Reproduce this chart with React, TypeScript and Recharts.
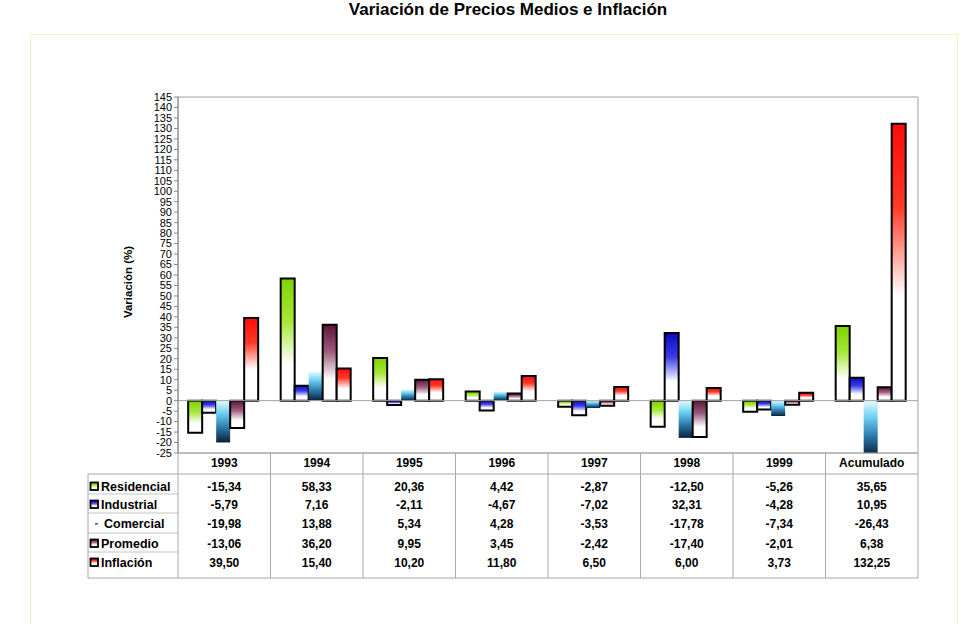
import { Bar, BarChart, ReferenceArea, ReferenceLine, XAxis, YAxis } from "recharts";

const years = ["1993", "1994", "1995", "1996", "1997", "1998", "1999", "Acumulado"];
const residencial = [-15.34, 58.33, 20.36, 4.42, -2.87, -12.5, -5.26, 35.65];
const industrial = [-5.79, 7.16, -2.11, -4.67, -7.02, 32.31, -4.28, 10.95];
const comercial = [-19.98, 13.88, 5.34, 4.28, -3.53, -17.78, -7.34, -26.43];
const promedio = [-13.06, 36.2, 9.95, 3.45, -2.42, -17.4, -2.01, 6.38];
const inflacion = [39.5, 15.4, 10.2, 11.8, 6.5, 6.0, 3.73, 132.25];
const yTicks = [-25, -20, -15, -10, -5, 0, 5, 10, 15, 20, 25, 30, 35, 40, 45, 50, 55, 60, 65, 70, 75, 80, 85, 90, 95, 100, 105, 110, 115, 120, 125, 130, 135, 140, 145];

const series = [
  { key: "res", name: "Residencial", values: residencial, grad: "gRes", border: true },
  { key: "ind", name: "Industrial", values: industrial, grad: "gInd", border: true },
  { key: "com", name: "Comercial", values: comercial, grad: "gCom", border: false },
  { key: "pro", name: "Promedio", values: promedio, grad: "gPro", border: true },
  { key: "inf", name: "Inflación", values: inflacion, grad: "gInf", border: true },
];

const data = years.map((y, i) => {
  const row: Record<string, string | number> = { year: y };
  series.forEach((s) => (row[s.key] = s.values[i]));
  return row;
});

const FONT = "Arial, 'Liberation Sans', sans-serif";
const W = 969;
const H = 624;
const PLOT_L = 178;
const PLOT_R = 918;
const PLOT_T = 97;
const PLOT_B = 453;
const COL_W = (PLOT_R - PLOT_L) / years.length;
const ROW_Y = [474, 494, 513, 533, 552, 578];

const fmt = (v: number) => v.toFixed(2).replace(".", ",");

function Gradients() {
  return (
    <defs>
      <linearGradient id="gRes" x1="0" y1="0" x2="0" y2="1">
        <stop offset="0%" stopColor="#7ed400" />
        <stop offset="35%" stopColor="#a6e638" />
        <stop offset="70%" stopColor="#ffffff" />
        <stop offset="100%" stopColor="#ffffff" />
      </linearGradient>
      <linearGradient id="gInd" x1="0" y1="0" x2="0" y2="1">
        <stop offset="0%" stopColor="#0a0ac8" />
        <stop offset="35%" stopColor="#3a3ae6" />
        <stop offset="72%" stopColor="#ffffff" />
        <stop offset="100%" stopColor="#ffffff" />
      </linearGradient>
      <linearGradient id="gCom" x1="0" y1="0" x2="0" y2="1">
        <stop offset="0%" stopColor="#e6fbff" />
        <stop offset="30%" stopColor="#6fd0f2" />
        <stop offset="65%" stopColor="#2a78a8" />
        <stop offset="100%" stopColor="#0a2038" />
      </linearGradient>
      <linearGradient id="gPro" x1="0" y1="0" x2="0" y2="1">
        <stop offset="0%" stopColor="#5e1538" />
        <stop offset="35%" stopColor="#9c5a7c" />
        <stop offset="72%" stopColor="#ffffff" />
        <stop offset="100%" stopColor="#ffffff" />
      </linearGradient>
      <linearGradient id="gInf" x1="0" y1="0" x2="0" y2="1">
        <stop offset="0%" stopColor="#ff0a0a" />
        <stop offset="30%" stopColor="#ff3a26" />
        <stop offset="62%" stopColor="#ffffff" />
        <stop offset="100%" stopColor="#ffffff" />
      </linearGradient>
    </defs>
  );
}

function DataTable() {
  const cols = years.map((_, i) => PLOT_L + i * COL_W);
  return (
    <svg width={W} height={H} style={{ position: "absolute", left: 0, top: 0, pointerEvents: "none" }}>
      <Gradients />
      {/* title and y axis caption */}
      <text x={508} y={15} textAnchor="middle" fontFamily={FONT} fontWeight="bold" fontSize={17} fill="#000">
        Variación de Precios Medios e Inflación
      </text>
      <text
        x={0}
        y={0}
        transform="translate(132,282) rotate(-90)"
        textAnchor="middle"
        fontFamily={FONT}
        fontWeight="bold"
        fontSize={11.5}
        fill="#000"
      >
        Variación (%)
      </text>

      {/* grid of the data table */}
      <g stroke="#a8a8a8" strokeWidth={1}>
        <line x1={PLOT_L} y1={PLOT_B} x2={PLOT_R} y2={PLOT_B} />
        <line x1={PLOT_L} y1={ROW_Y[0]} x2={PLOT_R} y2={ROW_Y[0]} />
        <line x1={88} y1={ROW_Y[0]} x2={PLOT_L} y2={ROW_Y[0]} />
        {ROW_Y.slice(1, 5).map((y) => (
          <line key={y} x1={88} y1={y} x2={PLOT_L} y2={y} stroke="#c4c4c4" />
        ))}
        <line x1={88} y1={578} x2={PLOT_R} y2={578} />
        <line x1={88} y1={ROW_Y[0]} x2={88} y2={578} />
        {[...cols, PLOT_R].map((x, i) => (
          <line key={i} x1={x} y1={PLOT_B} x2={x} y2={578} />
        ))}
      </g>

      {years.map((y, i) => (
        <text
          key={y}
          x={cols[i] + COL_W / 2}
          y={467}
          textAnchor="middle"
          fontFamily={FONT}
          fontWeight="bold"
          fontSize={12}
          fill="#000"
        >
          {y}
        </text>
      ))}

      {series.map((s, r) => {
        const base = [491, 509, 528, 548, 567][r];
        return (
          <g key={s.key}>
            {s.key === "com" ? (
              <rect x={95} y={base - 5} width={3} height={1.6} fill="#506080" />
            ) : (
              <rect x={90.5} y={base - 8.5} width={7.5} height={7.5} fill={`url(#${s.grad})`} stroke="#000" strokeWidth={1.8} />
            )}
            <text
              x={s.key === "com" ? 104 : 101}
              y={base}
              fontFamily={FONT}
              fontWeight="bold"
              fontSize={12.5}
              fill="#000"
            >
              {s.name}
            </text>
            {s.values.map((v, i) => (
              <text
                key={i}
                x={cols[i] + COL_W / 2}
                y={base}
                textAnchor="middle"
                fontFamily={FONT}
                fontWeight="bold"
                fontSize={12}
                fill="#000"
              >
                {fmt(v)}
              </text>
            ))}
          </g>
        );
      })}
    </svg>
  );
}

export default function App() {
  return (
    <div style={{ position: "absolute", left: 0, top: 0, width: W, height: H, background: "#fff", overflow: "hidden" }}>
      {/* pale frame around the chart */}
      <div
        style={{
          position: "absolute",
          left: 30,
          top: 34,
          width: 928,
          height: 620,
          border: "1px solid #f4efc6",
          boxSizing: "border-box",
        }}
      />
      <div style={{ position: "absolute", left: 0, top: 0 }}>
        <BarChart
          width={W}
          height={H}
          data={data}
          margin={{ top: PLOT_T, right: W - PLOT_R, bottom: H - PLOT_B, left: PLOT_L - 60 }}
          barCategoryGap="11%"
          barGap={0}
        >
          <Gradients />
          <XAxis dataKey="year" hide />
          <YAxis
            width={60}
            type="number"
            domain={[-25, 145]}
            ticks={yTicks}
            interval={0}
            allowDataOverflow
            tickSize={4}
            tickLine={{ stroke: "#888" }}
            axisLine={{ stroke: "#888" }}
            tick={{ fontFamily: FONT, fontSize: 11, fill: "#000" }}
          />
          <ReferenceArea y1={-25} y2={145} fill="none" stroke="#a0a0a0" strokeWidth={1} />
          <ReferenceLine y={0} stroke="#a0a0a0" strokeWidth={1} />
          {series.map((s) => (
            <Bar
              key={s.key}
              dataKey={s.key}
              name={s.name}
              fill={`url(#${s.grad})`}
              stroke={s.border ? "#000" : "none"}
              strokeWidth={s.border ? 2 : 0}
              isAnimationActive={false}
            />
          ))}
        </BarChart>
      </div>
      <DataTable />
    </div>
  );
}
